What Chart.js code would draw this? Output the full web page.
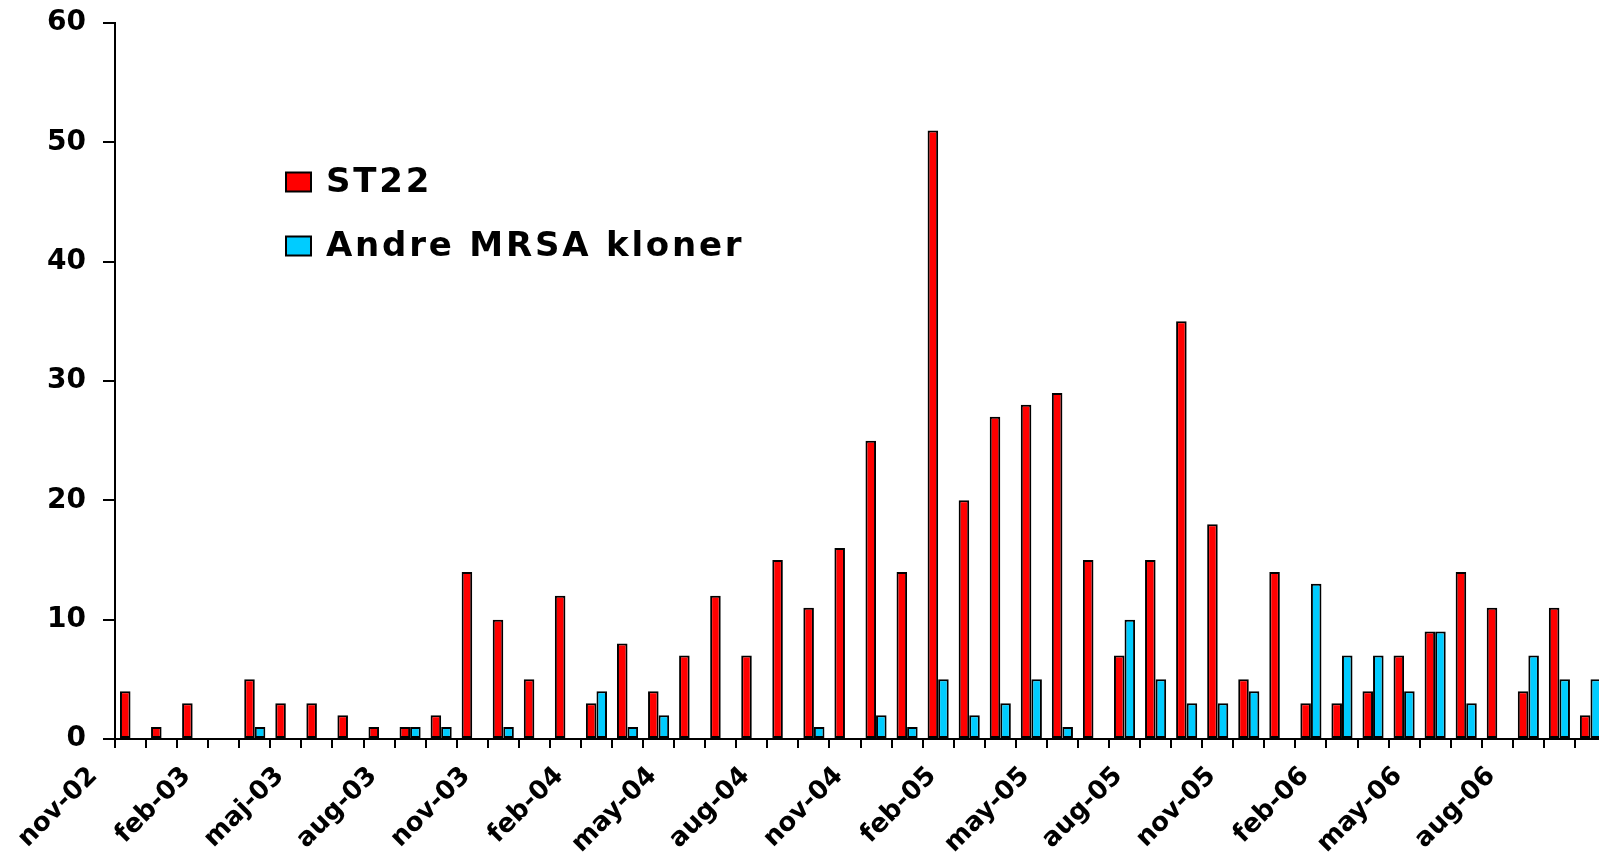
<!DOCTYPE html>
<html>
<head>
<meta charset="utf-8">
<script src="https://cdn.jsdelivr.net/npm/chart.js@4/dist/chart.umd.min.js"></script>
<style>
  html, body { margin: 0; padding: 0; background: #ffffff; overflow: hidden; width: 1599px; height: 853px; }
  #wrap { position: absolute; left: 0; top: 0; width: 1640px; height: 853px; }
</style>
</head>
<body>
<div id="wrap"><canvas id="c"></canvas></div>
<script>
// Months (one category per month), only every third month is labelled
const months = [
  'nov-02','dec-02','jan-03','feb-03','mar-03','apr-03','maj-03','jun-03','jul-03','aug-03','sep-03','okt-03',
  'nov-03','dec-03','jan-04','feb-04','mar-04','apr-04','may-04','jun-04','jul-04','aug-04','sep-04','oct-04',
  'nov-04','dec-04','jan-05','feb-05','mar-05','apr-05','may-05','jun-05','jul-05','aug-05','sep-05','oct-05',
  'nov-05','dec-05','jan-06','feb-06','mar-06','apr-06','may-06','jun-06','jul-06','aug-06','sep-06','oct-06'
];
const labelEvery = 3;

const seriesNames = ['ST22', 'Andre MRSA kloner'];

const st22 = [
  4, 1, 3, 0, 5, 3, 3, 2, 1, 1, 2, 14,
  10, 5, 12, 3, 8, 4, 7, 12, 7, 15, 11, 16,
  25, 14, 51, 20, 27, 28, 29, 15, 7, 15, 35, 18,
  5, 14, 3, 3, 4, 7, 9, 14, 11, 4, 11, 2
];

const andre = [
  0, 0, 0, 0, 1, 0, 0, 0, 0, 1, 1, 0,
  1, 0, 0, 4, 1, 2, 0, 0, 0, 0, 1, 0,
  2, 1, 5, 2, 3, 5, 1, 0, 10, 5, 3, 3,
  4, 0, 13, 7, 7, 4, 9, 3, 0, 7, 5, 5
];

const yMin = 0, yMax = 60, yStep = 10;

const FONT = "'DejaVu Sans', 'Liberation Sans', Arial, sans-serif";

// Legend drawn inside the plot, stacked vertically
const insideLegend = {
  id: 'insideLegend',
  afterDraw(chart) {
    const ctx = chart.ctx;
    const items = chart.data.datasets;
    const boxX = 286, boxW = 25, boxH = 19;
    const rowY = [182, 246];
    ctx.save();
    ctx.font = "bold 34px " + FONT;
    ctx.textBaseline = 'middle';
    ctx.textAlign = 'left';
    if ('letterSpacing' in ctx) ctx.letterSpacing = '2.8px';
    items.forEach((ds, i) => {
      const cy = rowY[i];
      ctx.fillStyle = ds.backgroundColor;
      ctx.fillRect(boxX, cy - boxH / 2, boxW, boxH);
      ctx.lineWidth = 2;
      ctx.strokeStyle = '#000';
      ctx.strokeRect(boxX, cy - boxH / 2, boxW, boxH);
      ctx.fillStyle = '#000';
      ctx.fillText(ds.label, 326, cy + 1);
    });
    ctx.restore();
  }
};

new Chart(document.getElementById('c'), {
  type: 'bar',
  data: {
    labels: months,
    datasets: [
      { label: seriesNames[0], data: st22, backgroundColor: '#FF0000', borderColor: '#000000', borderWidth: 2, borderSkipped: false },
      { label: seriesNames[1], data: andre, backgroundColor: '#00CCFF', borderColor: '#000000', borderWidth: 2, borderSkipped: false }
    ]
  },
  options: {
    responsive: true,
    maintainAspectRatio: false,
    animation: false,
    devicePixelRatio: 1,
    layout: { padding: { top: 23, right: 34, bottom: 0, left: 0 } },
    datasets: { bar: { categoryPercentage: 0.68, barPercentage: 1.0 } },
    plugins: { legend: { display: false }, tooltip: { enabled: false } },
    scales: {
      x: {
        grid: { display: true, drawOnChartArea: false, drawTicks: true, tickLength: 9, color: '#000', lineWidth: 2, offset: true },
        border: { display: true, color: '#000', width: 2 },
        ticks: {
          autoSkip: false,
          maxRotation: 45,
          minRotation: 45,
          padding: 13,
          labelOffset: -37,
          color: '#000',
          font: { family: FONT, weight: 'bold', size: 26 },
          callback: function (value, index) {
            return index % labelEvery === 0 ? months[index] : '';
          }
        },
        afterFit(scale) { scale.height = 114; scale.paddingLeft = 0; scale.paddingRight = 0; }
      },
      y: {
        min: yMin,
        max: yMax,
        grid: { display: true, drawOnChartArea: false, drawTicks: true, tickLength: 12, color: '#000', lineWidth: 2 },
        border: { display: true, color: '#000', width: 2 },
        ticks: {
          stepSize: yStep,
          padding: 17,
          color: '#000',
          font: { family: FONT, weight: 'bold', size: 28 }
        },
        afterFit(scale) { scale.width = 115; scale.paddingTop = 0; scale.paddingBottom = 0; }
      }
    }
  },
  plugins: [insideLegend]
});
</script>
</body>
</html>
